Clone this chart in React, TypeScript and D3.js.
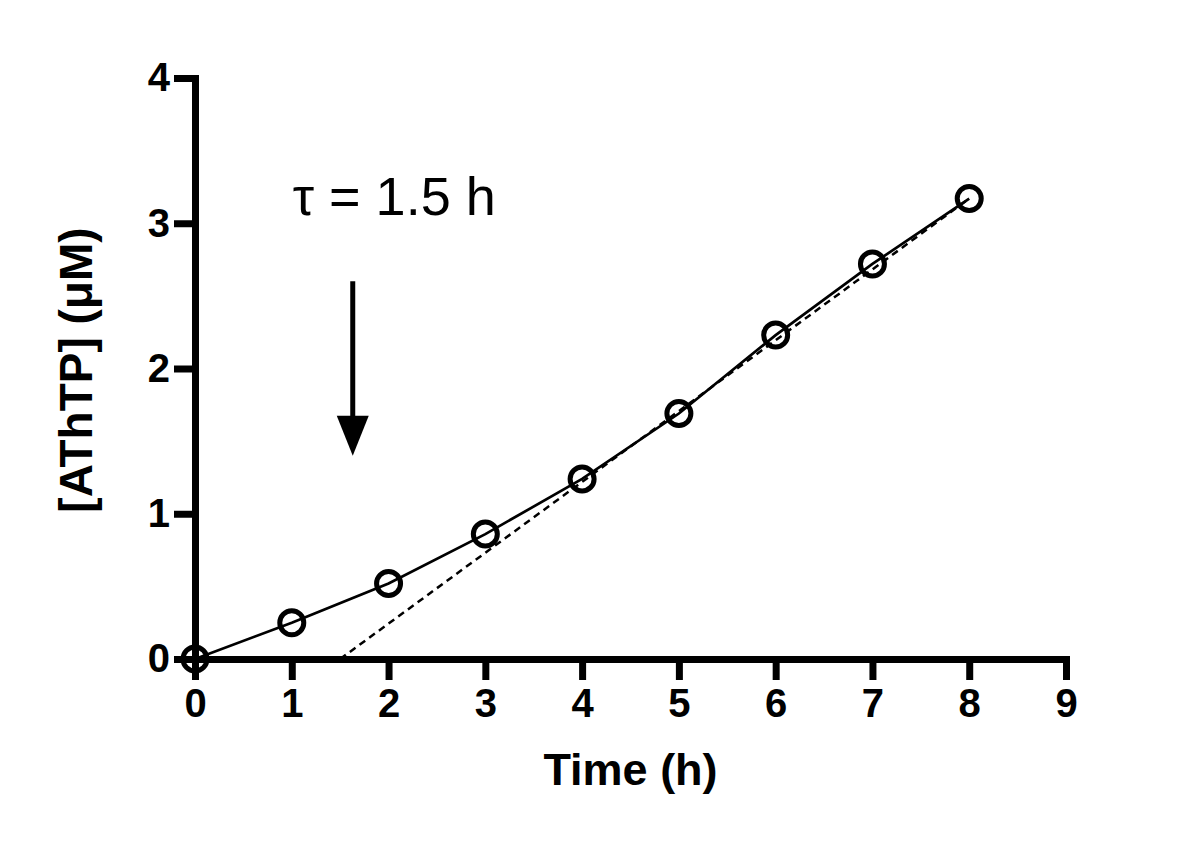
import React, { useEffect, useRef } from 'react'
import * as d3 from 'd3'

// measured series
const timeH = [0, 1, 2, 3, 4, 5, 6, 7, 8]
const athtp = [0, 0.25, 0.52, 0.86, 1.24, 1.69, 2.23, 2.72, 3.17]

// linear fit of the steady phase (lag time intercept)
const fitTime = [1.5, 8]
const fitValue = [0, 3.17]

const xTicks = [0, 1, 2, 3, 4, 5, 6, 7, 8, 9]
const yTicks = [0, 1, 2, 3, 4]

const tauLabel = 'τ = 1.5 h'
const arrowX = 1.63
const arrowFrom = 2.6
const arrowTo = 1.4

const W = 1200
const H = 848
const FONT = "'Liberation Sans', Arial, Helvetica, sans-serif"

export default function App() {
    const ref = useRef<SVGSVGElement>(null)

    useEffect(() => {
        const svg = d3.select(ref.current)
        svg.selectAll('*').remove()

        const x = d3.scaleLinear().domain([0, 9]).range([195, 1066])
        const y = d3.scaleLinear().domain([0, 4]).range([659, 78])

        const pts = timeH.map((t, i) => [t, athtp[i]] as [number, number])
        const fit = fitTime.map((t, i) => [t, fitValue[i]] as [number, number])

        const line = d3.line<[number, number]>().x(d => x(d[0])).y(d => y(d[1]))

        // dashed fit line
        svg.append('path')
            .attr('d', line(fit))
            .attr('fill', 'none')
            .attr('stroke', '#000')
            .attr('stroke-width', 2.5)
            .attr('stroke-dasharray', '7,5')

        // data line
        svg.append('path')
            .attr('d', line(pts))
            .attr('fill', 'none')
            .attr('stroke', '#000')
            .attr('stroke-width', 2.7)

        svg.append('g')
            .selectAll('circle')
            .data(pts)
            .join('circle')
            .attr('cx', d => x(d[0]))
            .attr('cy', d => y(d[1]))
            .attr('r', 12)
            .attr('fill', 'none')
            .attr('stroke', '#000')
            .attr('stroke-width', 5)

        // axes
        const xAxis = svg.append('g')
            .attr('transform', `translate(0,${y(0)})`)
            .call(d3.axisBottom(x).tickValues(xTicks).tickSize(21).tickSizeOuter(0).tickPadding(9).tickFormat(d3.format('d')))
        const yAxis = svg.append('g')
            .attr('transform', `translate(${x(0)},0)`)
            .call(d3.axisLeft(y).tickValues(yTicks).tickSize(21).tickSizeOuter(0).tickPadding(4).tickFormat(d3.format('d')))

        for (const g of [xAxis, yAxis]) {
            g.select('.domain').attr('stroke-width', 7).attr('stroke-linecap', 'square')
            g.selectAll('.tick line').attr('stroke-width', 7)
            g.selectAll('.tick text')
                .attr('fill', '#000')
                .style('font-family', FONT)
                .style('font-size', '40px')
                .style('font-weight', 'bold')
        }

        // titles
        svg.append('text')
            .attr('x', (x(0) + x(9)) / 2)
            .attr('y', 785)
            .attr('text-anchor', 'middle')
            .style('font-family', FONT)
            .style('font-size', '45px')
            .style('font-weight', 'bold')
            .text('Time (h)')

        svg.append('text')
            .attr('transform', `translate(92,${370}) rotate(-90)`)
            .attr('text-anchor', 'middle')
            .style('font-family', FONT)
            .style('font-size', '46px')
            .style('font-weight', 'bold')
            .text('[AThTP] (μM)')

        // annotation
        svg.append('text')
            .attr('x', x(1.01))
            .attr('y', y(3.06))
            .style('font-family', FONT)
            .style('font-size', '54px')
            .text(tauLabel)

        const ax = x(arrowX)
        const headTop = y(arrowTo) - 40
        svg.append('line')
            .attr('x1', ax).attr('x2', ax)
            .attr('y1', y(arrowFrom)).attr('y2', headTop + 2)
            .attr('stroke', '#000')
            .attr('stroke-width', 5)
        svg.append('path')
            .attr('d', `M${ax - 16},${headTop}L${ax + 16},${headTop}L${ax},${y(arrowTo)}Z`)
            .attr('fill', '#000')
    }, [])

    return (
        <svg ref={ref} width={W} height={H}
            style={{ position: 'absolute', left: 0, top: 0, background: '#fff' }} />
    )
}
